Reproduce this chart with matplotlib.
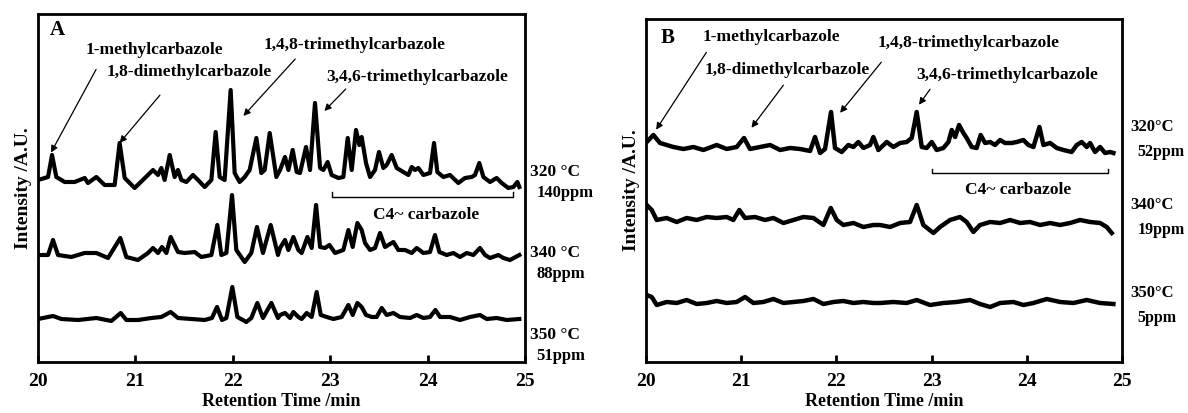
import matplotlib
matplotlib.use("Agg")
import matplotlib.pyplot as plt

plt.rcParams["font.family"] = ["Liberation Serif", "DejaVu Serif"]
plt.rcParams["font.weight"] = "bold"

# ---- panel A traces (retention time, intensity in arbitrary units) ----
a320_t = [20.000, 20.103, 20.144, 20.188, 20.274, 20.376, 20.479, 20.513, 20.599, 20.684,
          20.787, 20.838, 20.890, 20.992, 21.129, 21.181, 21.232, 21.266, 21.300, 21.352,
          21.403, 21.437, 21.472, 21.523, 21.591, 21.643, 21.711, 21.780, 21.824, 21.865,
          21.916, 21.978, 22.019, 22.070, 22.122, 22.173, 22.242, 22.293, 22.327, 22.379,
          22.447, 22.485, 22.536, 22.571, 22.615, 22.656, 22.690, 22.752, 22.793, 22.844,
          22.896, 22.930, 22.974, 23.015, 23.084, 23.135, 23.180, 23.221, 23.265, 23.300,
          23.323, 23.368, 23.409, 23.460, 23.501, 23.546, 23.580, 23.631, 23.683, 23.751,
          23.803, 23.837, 23.871, 23.905, 23.957, 24.025, 24.066, 24.100, 24.162, 24.230,
          24.316, 24.384, 24.453, 24.487, 24.531, 24.573, 24.641, 24.709, 24.761, 24.829,
          24.881, 24.922, 24.942]
a320_y = [182, 185, 207, 185, 180, 180, 184, 179, 185, 177,
          177, 219, 184, 174, 187, 192, 187, 194, 182, 207,
          185, 192, 182, 180, 187, 182, 175, 182, 230, 185,
          182, 272, 189, 180, 185, 192, 224, 189, 192, 229,
          185, 192, 205, 192, 212, 190, 189, 215, 192, 259,
          194, 192, 200, 187, 184, 185, 224, 192, 232, 217,
          225, 199, 185, 192, 210, 194, 197, 207, 194, 190,
          187, 195, 192, 194, 187, 189, 219, 190, 185, 187,
          179, 184, 185, 187, 199, 185, 180, 184, 179, 174,
          175, 180, 175]

a340_t = [20.000, 20.103, 20.154, 20.205, 20.342, 20.479, 20.599, 20.719, 20.845, 20.907,
          21.027, 21.129, 21.181, 21.232, 21.273, 21.318, 21.362, 21.437, 21.506, 21.608,
          21.677, 21.780, 21.841, 21.882, 21.934, 21.992, 22.036, 22.122, 22.190, 22.248,
          22.310, 22.389, 22.464, 22.485, 22.536, 22.571, 22.622, 22.673, 22.707, 22.766,
          22.810, 22.855, 22.896, 22.947, 22.992, 23.050, 23.135, 23.187, 23.231, 23.279,
          23.323, 23.358, 23.409, 23.460, 23.512, 23.563, 23.649, 23.700, 23.768, 23.837,
          23.888, 23.957, 24.025, 24.076, 24.121, 24.196, 24.265, 24.333, 24.401, 24.470,
          24.538, 24.590, 24.641, 24.727, 24.778, 24.846, 24.942]
a340_y = [107, 107, 122, 107, 105, 109, 109, 104, 124, 105,
          102, 109, 114, 109, 115, 109, 125, 110, 109, 110,
          105, 107, 137, 107, 109, 167, 112, 100, 109, 135,
          109, 137, 107, 114, 122, 112, 125, 112, 109, 125,
          114, 157, 115, 114, 117, 109, 112, 132, 115, 139,
          132, 119, 112, 114, 129, 115, 120, 112, 112, 109,
          114, 109, 110, 127, 110, 107, 109, 105, 109, 107,
          114, 107, 104, 107, 104, 102, 107]

a350_t = [20.000, 20.154, 20.240, 20.411, 20.599, 20.753, 20.849, 20.907, 21.027, 21.164,
          21.266, 21.362, 21.437, 21.574, 21.711, 21.786, 21.838, 21.889, 21.934, 21.995,
          22.047, 22.139, 22.190, 22.252, 22.310, 22.396, 22.464, 22.485, 22.536, 22.588,
          22.622, 22.673, 22.707, 22.759, 22.810, 22.861, 22.903, 22.964, 23.033, 23.118,
          23.187, 23.231, 23.279, 23.323, 23.368, 23.426, 23.477, 23.529, 23.580, 23.649,
          23.717, 23.820, 23.888, 23.957, 24.025, 24.080, 24.128, 24.230, 24.333, 24.436,
          24.538, 24.607, 24.709, 24.812, 24.942]
a350_y = [43, 46, 43, 42, 44, 41, 49, 42, 42, 44,
          45, 50, 44, 43, 42, 44, 55, 42, 44, 75,
          45, 40, 44, 59, 44, 59, 44, 47, 49, 44,
          50, 45, 43, 49, 45, 70, 47, 45, 43, 45,
          57, 47, 59, 55, 47, 45, 45, 54, 47, 49,
          45, 44, 47, 44, 45, 52, 45, 45, 42, 45,
          47, 43, 44, 42, 43]

# ---- panel B traces ----
b320_t = [20.007, 20.077, 20.147, 20.287, 20.392, 20.497, 20.602, 20.742, 20.847, 20.952,
          21.029, 21.092, 21.198, 21.303, 21.408, 21.513, 21.618, 21.723, 21.775, 21.828,
          21.880, 21.943, 21.985, 22.055, 22.125, 22.178, 22.230, 22.283, 22.353, 22.388,
          22.440, 22.528, 22.598, 22.668, 22.738, 22.791, 22.843, 22.896, 22.948, 23.001,
          23.053, 23.123, 23.176, 23.211, 23.246, 23.288, 23.333, 23.368, 23.421, 23.473,
          23.515, 23.561, 23.614, 23.666, 23.719, 23.771, 23.841, 23.894, 23.964, 24.016,
          24.069, 24.132, 24.174, 24.244, 24.314, 24.384, 24.471, 24.524, 24.576, 24.629,
          24.664, 24.716, 24.769, 24.821, 24.874, 24.909]
b320_y = [220, 227, 219, 215, 213, 215, 212, 217, 213, 215,
          224, 213, 215, 217, 212, 214, 213, 211, 225, 209,
          213, 250, 214, 210, 217, 215, 220, 214, 217, 225,
          212, 220, 215, 219, 220, 224, 250, 215, 214, 220,
          212, 214, 220, 232, 225, 237, 229, 224, 215, 214,
          227, 219, 220, 217, 222, 219, 219, 220, 222, 217,
          215, 235, 217, 219, 214, 212, 210, 217, 220, 215,
          219, 210, 215, 209, 210, 209]

b340_t = [20.007, 20.060, 20.112, 20.217, 20.322, 20.427, 20.532, 20.637, 20.742, 20.847,
          20.917, 20.980, 21.040, 21.145, 21.250, 21.338, 21.443, 21.548, 21.653, 21.758,
          21.863, 21.940, 22.003, 22.073, 22.178, 22.283, 22.388, 22.458, 22.563, 22.668,
          22.773, 22.843, 22.913, 23.018, 23.088, 23.193, 23.298, 23.368, 23.438, 23.508,
          23.614, 23.719, 23.824, 23.929, 24.034, 24.139, 24.244, 24.349, 24.454, 24.559,
          24.664, 24.769, 24.839, 24.891]
b340_y = [157, 152, 142, 144, 140, 144, 142, 145, 144, 145,
          142, 152, 144, 145, 142, 144, 139, 142, 145, 144,
          137, 154, 142, 137, 139, 135, 137, 137, 135, 139,
          140, 157, 137, 129, 135, 142, 145, 140, 130, 137,
          140, 139, 142, 139, 140, 137, 139, 137, 139, 142,
          140, 139, 135, 129]

b350_t = [20.007, 20.060, 20.112, 20.217, 20.322, 20.427, 20.532, 20.637, 20.742, 20.847,
          20.952, 21.040, 21.127, 21.232, 21.338, 21.443, 21.548, 21.653, 21.758, 21.863,
          21.968, 22.073, 22.178, 22.283, 22.388, 22.458, 22.598, 22.738, 22.843, 22.983,
          23.123, 23.263, 23.403, 23.508, 23.614, 23.719, 23.859, 23.964, 24.069, 24.209,
          24.349, 24.489, 24.629, 24.769, 24.909]
b350_y = [67, 65, 57, 60, 59, 62, 58, 59, 61, 59,
          60, 65, 59, 60, 63, 59, 60, 61, 63, 58,
          60, 61, 59, 60, 59, 59, 60, 59, 62, 57,
          59, 60, 62, 58, 55, 59, 60, 57, 59, 63,
          60, 59, 62, 59, 58]

ticks = [20, 21, 22, 23, 24, 25]
a_labels = [("320 \u00b0C", "140ppm", 190), ("340 \u00b0C", "88ppm", 109), ("350 \u00b0C", "51ppm", 27)]
b_labels = [("320\u00b0C", "52ppm", 235), ("340\u00b0C", "19ppm", 157), ("350\u00b0C", "5ppm", 69)]

fig = plt.figure(figsize=(11.88, 4.13), dpi=100)
axA = fig.add_axes([0.032, 0.1235, 0.4099, 0.8426])
axB = fig.add_axes([0.5438, 0.1235, 0.4007, 0.8305])


def style(ax, ytop):
    ax.set_xlim(20, 25)
    ax.set_ylim(0, ytop)
    ax.set_xticks(ticks)
    ax.set_xticklabels([str(t) for t in ticks], fontsize=14, fontweight="bold")
    ax.set_yticks([])
    ax.tick_params(axis="x", direction="in", length=5, width=2, pad=8)
    for s in ax.spines.values():
        s.set_linewidth(2)
    ax.set_xlabel("Retention Time /min", fontsize=13, fontweight="bold", labelpad=2)
    ax.set_ylabel("Intensity /A.U.", fontsize=14, fontweight="bold", labelpad=4)


style(axA, 348)
style(axB, 343)

for t, y in [(a320_t, a320_y), (a340_t, a340_y), (a350_t, a350_y)]:
    axA.plot(t, y, color="black", lw=3.0, solid_joinstyle="round")
for t, y in [(b320_t, b320_y), (b340_t, b340_y), (b350_t, b350_y)]:
    axB.plot(t, y, color="black", lw=3.2, solid_joinstyle="round")

arrow = dict(arrowstyle="-|>", color="black", lw=0.9, mutation_scale=10)
fs = 12.5

# panel A annotations
axA.text(20.12, 332, "A", fontsize=15, fontweight="bold", va="center")
axA.annotate("", xy=(20.12, 207), xytext=(20.61, 295), arrowprops=arrow)
axA.text(21.20, 312, "1-methylcarbazole", fontsize=fs, ha="center", va="center")
axA.annotate("", xy=(20.82, 217), xytext=(21.27, 269), arrowprops=arrow)
axA.text(21.55, 290, "1,8-dimethylcarbazole", fontsize=fs, ha="center", va="center")
axA.annotate("", xy=(22.09, 244), xytext=(22.66, 305), arrowprops=arrow)
axA.text(23.25, 317, "1,4,8-trimethylcarbazole", fontsize=fs, ha="center", va="center")
axA.annotate("", xy=(22.92, 249), xytext=(23.18, 275), arrowprops=arrow)
axA.text(23.89, 285, "3,4,6-trimethylcarbazole", fontsize=fs, ha="center", va="center")
axA.plot([23.02, 23.02, 24.88, 24.88], [170, 165, 165, 170], color="black", lw=1)
axA.text(23.99, 147, "C4~ carbazole", fontsize=fs, ha="center", va="center")
for top, bottom, y in a_labels:
    axA.text(25.05, y, top, fontsize=12.5, ha="left", va="center", clip_on=False)
    axA.text(25.12, y - 21, bottom, fontsize=12, ha="left", va="center", clip_on=False)

# panel B annotations
axB.text(20.15, 324, "B", fontsize=15, fontweight="bold", va="center")
axB.annotate("", xy=(20.09, 230), xytext=(20.65, 312), arrowprops=arrow)
axB.text(20.59, 325, "1-methylcarbazole", fontsize=fs, ha="left", va="center")
axB.annotate("", xy=(21.09, 232), xytext=(21.46, 279), arrowprops=arrow)
axB.text(20.62, 292, "1,8-dimethylcarbazole", fontsize=fs, ha="left", va="center")
axB.annotate("", xy=(22.02, 247), xytext=(22.49, 302), arrowprops=arrow)
axB.text(22.43, 319, "1,4,8-trimethylcarbazole", fontsize=fs, ha="left", va="center")
axB.annotate("", xy=(22.85, 255), xytext=(23.00, 275), arrowprops=arrow)
axB.text(22.84, 287, "3,4,6-trimethylcarbazole", fontsize=fs, ha="left", va="center")
axB.plot([23.00, 23.00, 24.85, 24.85], [193, 189, 189, 193], color="black", lw=1)
axB.text(23.91, 172, "C4~ carbazole", fontsize=fs, ha="center", va="center")
for top, bottom, y in b_labels:
    axB.text(25.09, y, top, fontsize=12, ha="left", va="center", clip_on=False)
    axB.text(25.16, y - 25, bottom, fontsize=11.5, ha="left", va="center", clip_on=False)

fig.savefig("out.png", dpi=100)
